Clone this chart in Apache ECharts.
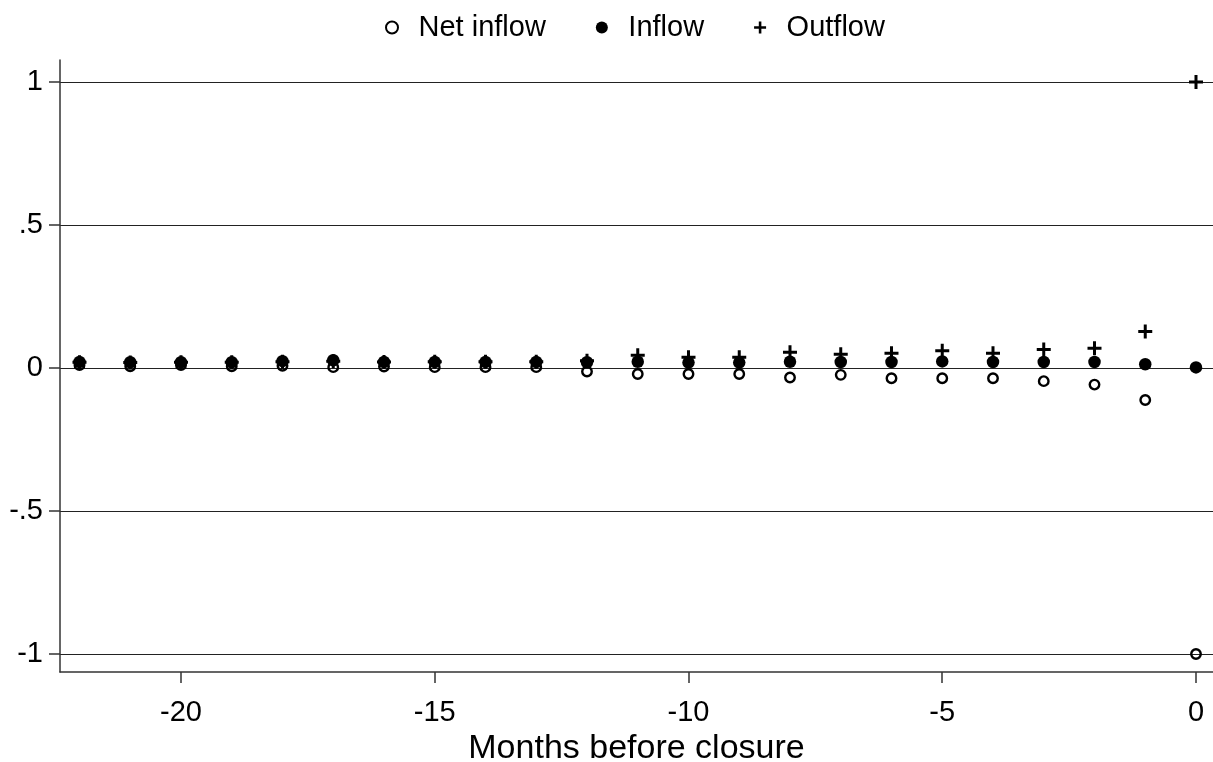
<!DOCTYPE html>
<html>
<head>
<meta charset="utf-8">
<title>Flows before closure</title>
<script src="https://cdn.jsdelivr.net/npm/echarts@6/dist/echarts.min.js"></script>
<style>
  html, body { margin: 0; padding: 0; background: #fff; }
  #chart { width: 1213px; height: 762px; }
</style>
</head>
<body>
<div id="chart"></div>
<script>
// Months relative to closure
const months = [-22, -21, -20, -19, -18, -17, -16, -15, -14, -13, -12, -11,
                -10, -9, -8, -7, -6, -5, -4, -3, -2, -1, 0];

// Flow measures per month
const netInflow = [0.010, 0.006, 0.010, 0.006, 0.008, 0.003, 0.005, 0.003, 0.003, 0.003, -0.012, -0.021,
                   -0.021, -0.021, -0.033, -0.024, -0.036, -0.036, -0.036, -0.046, -0.058, -0.112, -1.0];
const inflow    = [0.021, 0.020, 0.020, 0.020, 0.024, 0.027, 0.021, 0.021, 0.021, 0.021, 0.020, 0.022,
                   0.019, 0.019, 0.022, 0.021, 0.021, 0.023, 0.021, 0.021, 0.021, 0.013, 0.002];
const outflow   = [0.020, 0.019, 0.020, 0.020, 0.022, 0.024, 0.021, 0.022, 0.022, 0.022, 0.025, 0.045,
                   0.038, 0.038, 0.055, 0.048, 0.052, 0.060, 0.052, 0.065, 0.069, 0.128, 1.0];

// Axis ticks and their printed labels
const xTicks = [-20, -15, -10, -5, 0];
const yTicks = [-1, -0.5, 0, 0.5, 1];
const yTickLabels = ['-1', '-.5', '0', '.5', '1'];

const FONT = '"Liberation Sans", Arial, sans-serif';
const INK = '#000';
const AXIS = '#333';
const PLUS = 'path://M5.5,0H8.5V5.5H14V8.5H8.5V14H5.5V8.5H0V5.5H5.5Z';

const pairs = (ys) => months.map((m, i) => [m, ys[i]]);

const chart = echarts.init(document.getElementById('chart'), null, { renderer: 'canvas' });

chart.setOption({
  animation: false,
  backgroundColor: '#fff',
  textStyle: { fontFamily: FONT, color: INK },
  grid: { left: 60, right: 0, top: 60, bottom: 90, outerBoundsMode: 'none' },
  legend: {
    left: 380,
    top: 8,
    itemWidth: 43,
    itemHeight: 12,
    itemGap: 50,
    textStyle: { fontSize: 29, color: INK, fontFamily: FONT },
    data: ['Net inflow', 'Inflow', 'Outflow']
  },
  xAxis: {
    type: 'value',
    min: -22.384,
    max: 0.335,
    name: 'Months before closure',
    nameLocation: 'middle',
    nameGap: 50,
    nameTextStyle: { fontSize: 34, color: INK, fontFamily: FONT },
    axisLine: { onZero: false, lineStyle: { color: AXIS, width: 1.5 } },
    axisTick: { customValues: xTicks, length: 11, lineStyle: { color: AXIS, width: 1.5 } },
    axisLabel: { customValues: xTicks, fontSize: 29, color: INK, margin: 26, fontFamily: FONT },
    splitLine: { show: false }
  },
  yAxis: {
    type: 'value',
    min: -1.063,
    max: 1.077,
    axisLine: { show: true, onZero: false, lineStyle: { color: AXIS, width: 1.5 } },
    axisTick: { show: true, customValues: yTicks, length: 11, lineStyle: { color: AXIS, width: 1.5 } },
    axisLabel: {
      customValues: yTicks,
      fontSize: 29,
      color: INK,
      margin: 17,
      fontFamily: FONT,
      formatter: (v) => {
        const i = yTicks.findIndex((t) => Math.abs(t - v) < 1e-9);
        return i >= 0 ? yTickLabels[i] : '';
      }
    },
    splitLine: { show: true, lineStyle: { color: '#222', width: 1.2 } }
  },
  series: [
    {
      name: 'Net inflow',
      type: 'scatter',
      symbol: 'circle',
      symbolSize: 9.5,
      itemStyle: { color: 'rgba(0,0,0,0)', borderColor: INK, borderWidth: 2.4, opacity: 1 },
      data: pairs(netInflow)
    },
    {
      name: 'Inflow',
      type: 'scatter',
      symbol: 'circle',
      symbolSize: 12.5,
      itemStyle: { color: INK, opacity: 1 },
      data: pairs(inflow)
    },
    {
      name: 'Outflow',
      type: 'scatter',
      symbol: PLUS,
      symbolSize: 14,
      itemStyle: { color: INK, opacity: 1 },
      data: pairs(outflow)
    }
  ]
});
</script>
</body>
</html>
